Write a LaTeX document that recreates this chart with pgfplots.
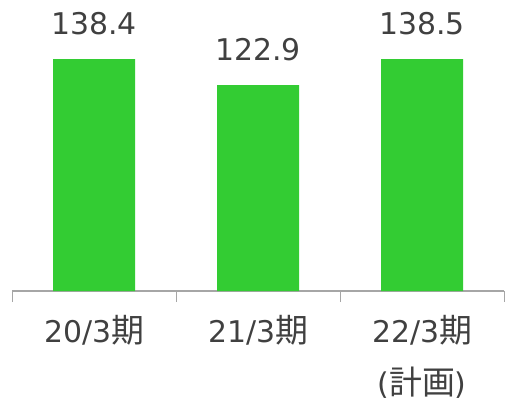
\documentclass[border=0pt]{standalone}
\usepackage{pgfplots}
\pgfplotsset{compat=1.18}
\usepackage{fontspec}
\setmainfont{DejaVu Sans}
\newfontfamily\cjk[Scale=1.1]{Noto Sans CJK JP}
\definecolor{barg}{HTML}{33CC33}
\definecolor{txt}{HTML}{404040}
\definecolor{axg}{HTML}{A6A6A6}
\begin{document}
\begin{tikzpicture}
\useasboundingbox (0,0) rectangle (510bp,404bp);
\begin{axis}[
  at={(12bp,113bp)}, anchor=south west,
  scale only axis, width=492bp, height=268bp,
  xmin=-0.5, xmax=2.5, ymin=0, ymax=160,
  hide y axis,
  axis x line=bottom,
  x axis line style={-, draw=axg, line width=1.2bp},
  xtick={-0.5,0.5,1.5,2.5},
  xticklabels={},
  xtick align=outside,
  major tick length=11bp,
  major x tick style={draw=axg, line width=1bp},
  extra x ticks={0,1,2},
  extra x tick labels={{20/3{\cjk 期}},{21/3{\cjk 期}},{22/3{\cjk 期}\\({\cjk 計画})}},
  extra x tick style={major tick length=0pt, xticklabel style={font=\fontsize{30}{52}\selectfont, text=txt, align=center, anchor=north, inner sep=0pt, yshift=-24bp}},
  ybar, bar width=82bp,
  nodes near coords={\pgfmathprintnumber[fixed,fixed zerofill,precision=1,assume math mode=true]{\pgfplotspointmeta}},
  every node near coord/.append style={font=\fontsize{30}{34}\selectfont, text=txt, anchor=base, inner sep=0pt, yshift=25bp},
  clip=false,
]
\addplot[fill=barg, draw=none] coordinates {(0,138.4) (1,122.9) (2,138.5)};
\end{axis}
\end{tikzpicture}
\end{document}
